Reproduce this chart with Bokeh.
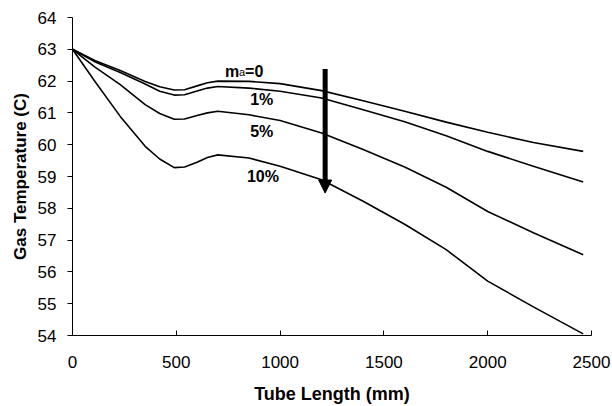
from bokeh.plotting import figure
from bokeh.models import Arrow, NormalHead, Range1d, FixedTicker
from bokeh.core.properties import value
from bokeh.embed import file_html
from bokeh.resources import INLINE

# ---- data ----
tube_length = [0, 110, 230, 350, 420, 490, 540, 600, 650, 700, 850, 1000, 1200, 1400, 1600, 1800, 2000, 2220, 2460]
temp_ma0 = [63.0, 62.64, 62.33, 61.99, 61.82, 61.72, 61.73, 61.85, 61.95, 62.00, 61.99, 61.92, 61.70, 61.38, 61.05, 60.71, 60.39, 60.07, 59.79]
temp_ma1 = [63.0, 62.60, 62.27, 61.91, 61.68, 61.56, 61.57, 61.69, 61.78, 61.83, 61.78, 61.68, 61.47, 61.10, 60.72, 60.28, 59.79, 59.32, 58.83]
temp_ma5 = [63.0, 62.43, 61.89, 61.26, 60.98, 60.80, 60.81, 60.92, 61.00, 61.05, 60.94, 60.76, 60.37, 59.85, 59.30, 58.66, 57.90, 57.23, 56.54]
temp_ma10 = [63.0, 61.97, 60.89, 59.95, 59.55, 59.28, 59.30, 59.45, 59.60, 59.68, 59.58, 59.32, 58.90, 58.22, 57.50, 56.70, 55.71, 54.90, 54.05]

x_ticks = [0, 500, 1000, 1500, 2000, 2500]
y_ticks = [54, 55, 56, 57, 58, 59, 60, 61, 62, 63, 64]

# curve labels: text, x (mm), baseline y (C)
label_texts = ["1%", "5%", "10%"]
label_x = [856, 856, 840]
label_y = [61.42, 60.41, 59.00]
ma0_label_x = 735
ma0_label_y = 62.31

# arrow (mm, C)
arrow_x = 1217
arrow_y_start = 62.38
arrow_y_end = 58.48

FONT = "Liberation Sans"

p = figure(width=612, height=406, output_backend="svg", toolbar_location=None,
           x_range=Range1d(0, 2500), y_range=Range1d(54, 64),
           min_border_left=72, min_border_right=21, min_border_top=17, min_border_bottom=70)
p.outline_line_color = None
p.xgrid.visible = False
p.ygrid.visible = False
p.background_fill_color = "white"
p.border_fill_color = "white"

for series in [temp_ma0, temp_ma1, temp_ma5, temp_ma10]:
    p.line(tube_length, series, line_color="black", line_width=1.6)

# x axis
xa = p.xaxis[0]
xa.ticker = FixedTicker(ticks=x_ticks)
xa.minor_tick_line_color = None
xa.major_tick_in = 5
xa.major_tick_out = 0
xa.major_label_standoff = 20
xa.axis_line_color = "black"
xa.major_tick_line_color = "black"
xa.major_label_text_font = FONT
xa.major_label_text_font_size = "17px"
xa.major_label_text_color = "black"
xa.axis_label = "Tube Length (mm)"
xa.axis_label_text_font = FONT
xa.axis_label_text_font_size = "18px"
xa.axis_label_text_font_style = "bold"
xa.axis_label_text_color = "black"
xa.axis_label_standoff = 13

# y axis
ya = p.yaxis[0]
ya.ticker = FixedTicker(ticks=y_ticks)
ya.minor_tick_line_color = None
ya.major_tick_in = 0
ya.major_tick_out = 5
ya.major_label_standoff = 11
ya.axis_line_color = "black"
ya.major_tick_line_color = "black"
ya.major_label_text_font = FONT
ya.major_label_text_font_size = "17px"
ya.major_label_text_color = "black"
ya.axis_label = "Gas Temperature (C)"
ya.axis_label_text_font = FONT
ya.axis_label_text_font_size = "17px"
ya.axis_label_text_font_style = "bold"
ya.axis_label_text_color = "black"
ya.axis_label_standoff = 5

# curve labels
p.text(x=label_x, y=label_y, text=label_texts, text_font=value(FONT),
       text_font_size="16px", text_font_style="bold", text_color="black",
       text_align="left", text_baseline="alphabetic")

# m_a=0 label, composed of three parts
p.text(x=[ma0_label_x], y=[ma0_label_y], text=["m"], text_font=value(FONT),
       text_font_size="16px", text_font_style="bold", text_color="black",
       text_align="left", text_baseline="alphabetic")
p.text(x=[ma0_label_x], y=[ma0_label_y], text=["a"], text_font=value(FONT),
       text_font_size="11px", text_font_style="normal", text_color="black",
       text_align="left", text_baseline="alphabetic", x_offset=14, y_offset=1)
p.text(x=[ma0_label_x], y=[ma0_label_y], text=["=0"], text_font=value(FONT),
       text_font_size="16px", text_font_style="bold", text_color="black",
       text_align="left", text_baseline="alphabetic", x_offset=20)

# arrow
p.add_layout(Arrow(end=NormalHead(size=13, fill_color="black", line_color="black"),
                   x_start=arrow_x, y_start=arrow_y_start,
                   x_end=arrow_x, y_end=arrow_y_end,
                   line_width=5, line_color="black"))

open("out.html", "w").write(file_html(p, INLINE))
